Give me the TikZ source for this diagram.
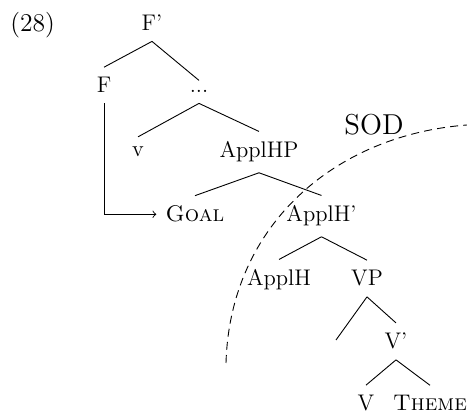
\documentclass[tikz,border=0pt]{standalone}
\begin{document}
\begin{tikzpicture}[x=0.5pt,y=-0.5pt,
  lab/.style={anchor=base,inner xsep=4.5pt,inner ysep=5pt,font=\fontsize{11.3}{13}\selectfont},
  branch/.style={line width=0.45pt},
  sod/.style={line width=0.45pt,dash pattern=on 4pt off 2.6pt}]
\useasboundingbox (0,0) rectangle (467,416);
\node[lab,anchor=base west,inner xsep=0pt,font=\fontsize{12.8}{15}\selectfont] (ex) at (10,32) {(28)};
\node[lab] (Fp) at (152,31) {F'};
\node[lab] (F) at (104,93) {F};
\node[lab] (dots) at (199,93) {...};
\node[lab] (v) at (138,157) {v};
\node[lab] (ApplHP) at (259,158) {ApplHP};
\node[lab] (Goal) at (195,222) {\textsc{Goal}};
\node[lab] (ApplHp) at (321.5,222) {ApplH'};
\node[lab] (ApplH) at (279,286) {ApplH};
\node[lab] (VP) at (367,286) {VP};
\coordinate (empty) at (336,340);
\node[lab] (Vp) at (396,349) {V'};
\node[lab] (V) at (366,411) {V};
\node[lab] (Theme) at (430,411) {\textsc{Theme}};
\node[lab,font=\fontsize{14.4}{17}\selectfont] (SOD) at (374,135) {SOD};
\draw[branch] (Fp.south) -- (F.north);
\draw[branch] (Fp.south) -- (dots.north);
\draw[branch] (dots.south) -- (v.north);
\draw[branch] (dots.south) -- (ApplHP.north);
\draw[branch] (ApplHP.south) -- (Goal.north);
\draw[branch] (ApplHP.south) -- (ApplHp.north);
\draw[branch] (ApplHp.south) -- (ApplH.north);
\draw[branch] (ApplHp.south) -- (VP.north);
\draw[branch] (VP.south) -- (empty);
\draw[branch] (VP.south) -- (Vp.north);
\draw[branch] (Vp.south) -- (V.north);
\draw[branch] (Vp.south) -- (Theme.north);
\draw[branch,->] (F.south) |- (Goal.west);
\coordinate (sodA) at (226,363);
\coordinate (sodB) at (467,125);
\draw[sod] (sodA) .. controls (230,225) and (335,135) .. (sodB);
\end{tikzpicture}
\end{document}
